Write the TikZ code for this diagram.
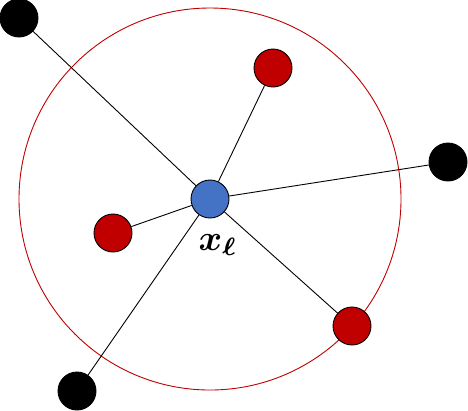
\documentclass[tikz,border=0pt]{standalone}
\usepackage{amsmath}
\definecolor{dred}{HTML}{C00000}
\definecolor{oblue}{HTML}{4472C4}
\begin{document}
\begin{tikzpicture}[x=1bp,y=-1bp,
  dot/.style={circle,draw=black,line width=0.9bp,minimum size=38bp,inner sep=0pt},
  reddot/.style={dot,fill=dred},
  blackdot/.style={dot,fill=black},
  bluedot/.style={dot,fill=oblue},
  link/.style={draw=black,line width=0.9bp},
  ring/.style={draw=dred,line width=0.9bp}]
\useasboundingbox (0,0) rectangle (468,410);
\coordinate (c) at (210,199);
\draw[ring] (c) circle[radius=191bp];
\node[bluedot] (x) at (210,199) {};
\node[blackdot] (b1) at (19,18) {};
\node[blackdot] (b2) at (448,162) {};
\node[blackdot] (b3) at (77,391) {};
\node[reddot] (r1) at (273,68) {};
\node[reddot] (r2) at (113,233) {};
\node[reddot] (r3) at (352,326) {};
\foreach \n in {b1,b2,b3,r1,r2,r3} \draw[link] (x) -- (\n);
\node[inner sep=0pt] (lbl) at (218,245) {\scalebox{3.6}{\boldmath$x_{\ell}$}};
\end{tikzpicture}
\end{document}
